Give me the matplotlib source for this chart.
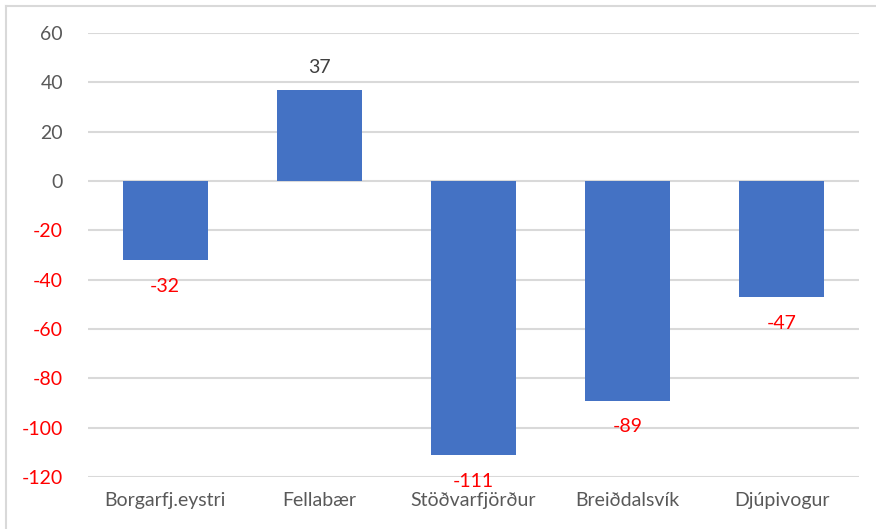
import matplotlib.pyplot as plt
from matplotlib.lines import Line2D

plt.rcParams['font.family'] = ['Lato', 'DejaVu Sans']

# data
places = ['Borgarfj.eystri', 'Fellabær', 'Stöðvarfjörður', 'Breiðdalsvík', 'Djúpivogur']
values = [-32, 37, -111, -89, -47]
yticks = [60, 40, 20, 0, -20, -40, -60, -80, -100, -120]

fig = plt.figure(figsize=(8.76, 5.29), dpi=100)
ax = fig.add_axes([88/876, 1-477/529, (859-88)/876, (477-33)/529])

ax.bar(range(len(places)), values, width=0.55, color='#4472C4', zorder=3)
ax.set_xlim(-0.5, len(places)-0.5)
ax.set_ylim(-120, 60)
ax.set_yticks(yticks)
ax.yaxis.grid(True, color='#D9D9D9', linewidth=1.5, zorder=0)
ax.set_yticklabels([str(t) for t in yticks])
for lab, t in zip(ax.get_yticklabels(), yticks):
    lab.set_color('#FF0000' if t < 0 else '#595959')
ax.tick_params(axis='y', length=0, labelsize=14, pad=18)
ax.set_xticks(range(len(places)))
ax.set_xticklabels(places)
ax.tick_params(axis='x', length=0, labelsize=14, colors='#595959', pad=11)
for s in ax.spines.values():
    s.set_visible(False)

# value labels, red when negative like the excel number format
for i, v in enumerate(values):
    if v < 0:
        ax.annotate(str(v), (i, v), xytext=(0, -19), textcoords='offset points',
                    ha='center', va='center', fontsize=14, color='#FF0000')
    else:
        ax.annotate(str(v), (i, v), xytext=(0, 16), textcoords='offset points',
                    ha='center', va='center', fontsize=14, color='#404040')

# chart border (only top and left visible in the picture)
fig.add_artist(Line2D([6/876, 1], [1-6/529, 1-6/529], color='#D9D9D9', lw=1.5))
fig.add_artist(Line2D([6/876, 6/876], [0, 1-6/529], color='#D9D9D9', lw=1.5))

fig.savefig('out.png', dpi=100)
